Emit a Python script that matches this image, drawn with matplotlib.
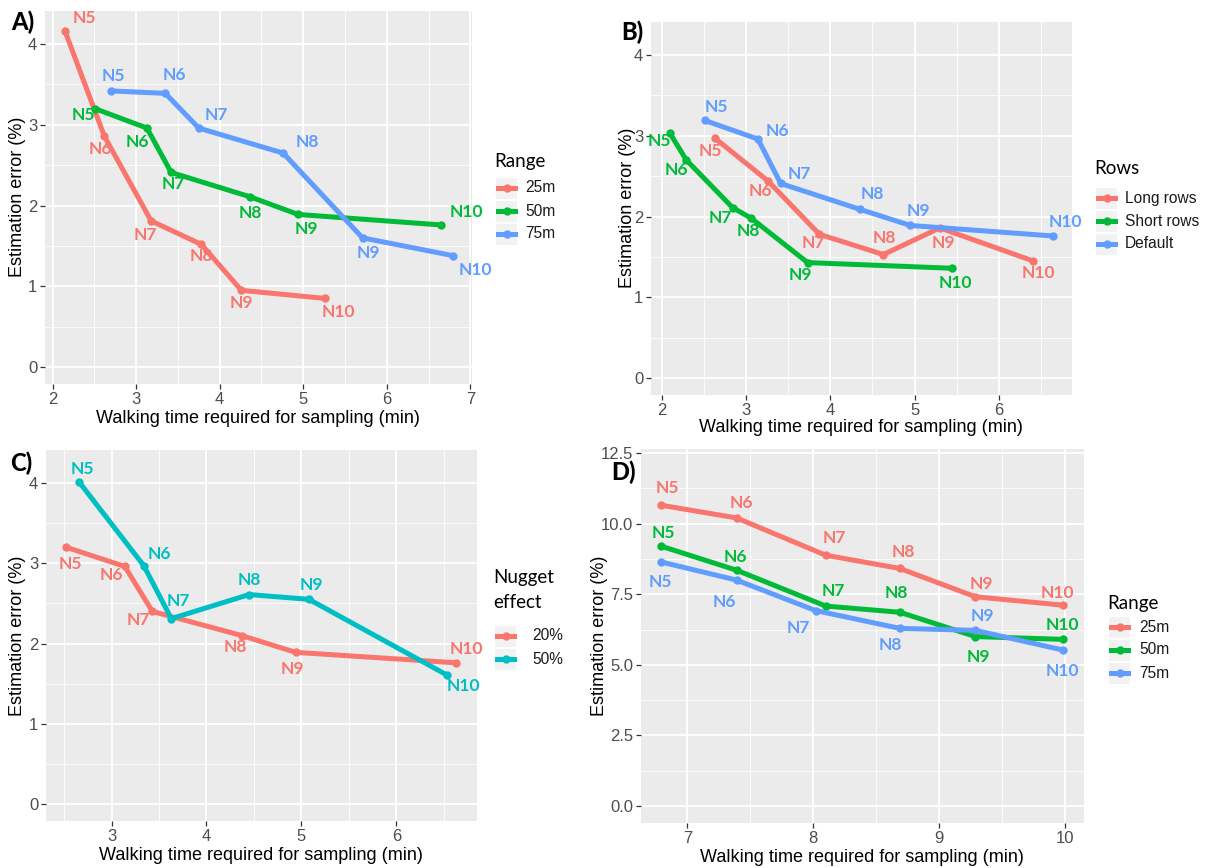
import matplotlib.pyplot as plt
from matplotlib.ticker import MultipleLocator, FormatStrFormatter
from matplotlib.patches import Rectangle
from matplotlib.lines import Line2D

W, H = 1205, 868

RED = '#F8766D'
GREEN = '#00BA38'
BLUE = '#619CFF'
TEAL = '#00BFC4'

point_names = ['N5', 'N6', 'N7', 'N8', 'N9', 'N10']

# A) sampling range
a_time_25 = [2.15, 2.62, 3.18, 3.78, 4.26, 5.26]
a_err_25 = [4.16, 2.86, 1.81, 1.52, 0.95, 0.85]
a_time_50 = [2.51, 3.13, 3.42, 4.36, 4.94, 6.65]
a_err_50 = [3.20, 2.96, 2.41, 2.11, 1.89, 1.76]
a_time_75 = [2.70, 3.35, 3.75, 4.76, 5.71, 6.79]
a_err_75 = [3.42, 3.39, 2.96, 2.65, 1.60, 1.38]

# B) row layout
b_time_long = [2.63, 3.26, 3.87, 4.63, 5.30, 6.41]
b_err_long = [2.97, 2.44, 1.78, 1.53, 1.86, 1.45]
b_time_short = [2.09, 2.29, 2.84, 3.06, 3.73, 5.44]
b_err_short = [3.04, 2.70, 2.11, 1.98, 1.43, 1.36]
b_time_default = [2.51, 3.14, 3.41, 4.35, 4.95, 6.64]
b_err_default = [3.19, 2.96, 2.41, 2.09, 1.89, 1.76]

# C) nugget effect
c_time_20 = [2.52, 3.14, 3.43, 4.37, 4.94, 6.63]
c_err_20 = [3.20, 2.96, 2.40, 2.10, 1.89, 1.76]
c_time_50 = [2.66, 3.34, 3.63, 4.45, 5.08, 6.53]
c_err_50 = [4.01, 2.97, 2.31, 2.61, 2.55, 1.61]

# D) sampling range, larger field
d_time_25 = [6.79, 7.39, 8.10, 8.69, 9.29, 9.99]
d_err_25 = [10.65, 10.20, 8.88, 8.41, 7.41, 7.11]
d_time_50 = [6.79, 7.39, 8.10, 8.69, 9.29, 9.99]
d_err_50 = [9.20, 8.35, 7.08, 6.86, 6.00, 5.90]
d_time_75 = [6.79, 7.39, 8.02, 8.69, 9.29, 9.99]
d_err_75 = [8.64, 8.00, 6.92, 6.29, 6.22, 5.52]

# label nudges in pixels (dx right, dy down)
nudge_a25 = [(19, -13), (-4, 13), (-6, 14), (0, 12), (0, 13), (13, 14)]
nudge_a50 = [(-12, 6), (-10, 14), (2, 12), (1, 16), (8, 15), (25, -13)]
nudge_a75 = [(2, -15), (9, -18), (18, -13), (24, -11), (6, 15), (23, 14)]
nudge_b_long = [(-5, 13), (-8, 10), (-6, 9), (1, -17), (4, 15), (5, 12)]
nudge_b_short = [(-10, 8), (-10, 10), (-12, 10), (-3, 13), (-7, 12), (4, 15)]
nudge_b_def = [(11, -13), (19, -8), (19, -9), (12, -15), (8, -14), (13, -14)]
nudge_c20 = [(4, 17), (-13, 9), (-14, 9), (-6, 11), (-3, 17), (10, -14)]
nudge_c50 = [(3, -13), (16, -12), (7, -18), (0, -15), (2, -14), (17, 11)]
nudge_d25 = [(6, -17), (5, -15), (9, -17), (3, -16), (6, -13), (-6, -12)]
nudge_d50 = [(2, -13), (-1, -13), (8, -15), (-4, -19), (3, 20), (-1, -14)]
nudge_d75 = [(-1, 20), (-12, 22), (-17, 17), (-10, 17), (7, -14), (-1, 21)]

SANS = ['Liberation Sans', 'DejaVu Sans']
LABEL_FONT = ['Lato', 'DejaVu Sans']

fig = plt.figure(figsize=(W / 100, H / 100), dpi=100)


def px_axes(left, top, right, bottom):
    return fig.add_axes([left / W, 1 - bottom / H, (right - left) / W, (bottom - top) / H])


def fig_text(x, y, s, **kw):
    fig.text(x / W, 1 - y / H, s, **kw)


def draw_panel(box, xlim, ylim, xstep, ystep, series, yfmt=None):
    ax = px_axes(*box)
    ax.set_facecolor('#EBEBEB')
    for sp in ax.spines.values():
        sp.set_visible(False)
    ax.set_xlim(*xlim)
    ax.set_ylim(*ylim)
    ax.xaxis.set_major_locator(MultipleLocator(xstep))
    ax.xaxis.set_minor_locator(MultipleLocator(xstep / 2))
    ax.yaxis.set_major_locator(MultipleLocator(ystep))
    ax.yaxis.set_minor_locator(MultipleLocator(ystep / 2))
    if yfmt:
        ax.yaxis.set_major_formatter(FormatStrFormatter(yfmt))
    ax.grid(which='major', color='white', lw=1.3)
    ax.grid(which='minor', color='white', lw=0.6)
    ax.set_axisbelow(True)
    ax.tick_params(which='major', length=3.5, width=0.9, color='#333333',
                   labelcolor='#4D4D4D', labelsize=12, pad=2)
    ax.tick_params(which='minor', length=0)
    for lab in ax.get_xticklabels() + ax.get_yticklabels():
        lab.set_family(SANS)
    for xs, ys, color, nudges in series:
        ax.plot(xs, ys, color=color, lw=3.6, marker='o', ms=5,
                solid_joinstyle='round', solid_capstyle='round', zorder=3)
        for name, x, y, (dx, dy) in zip(point_names, xs, ys, nudges):
            ax.annotate(name, (x, y), xytext=(dx, -dy), textcoords='offset pixels',
                        ha='center', va='center', color=color, fontsize=12.5,
                        fontweight='bold', family=LABEL_FONT, zorder=4)
    return ax


def draw_legend(x, title_lines, title_y, key_ys, names, colors, label_x):
    for i, line in enumerate(title_lines):
        fig_text(x - 2, title_y + i * 26, line, ha='left', va='center',
                 fontsize=13.5, family=LABEL_FONT, color='black')
    for ky, name, color in zip(key_ys, names, colors):
        fig.add_artist(Rectangle((x / W, 1 - (ky + 10.5) / H), 21 / W, 21 / H,
                                 transform=fig.transFigure, facecolor='#F2F2F2',
                                 edgecolor='none'))
        fig.add_artist(Line2D([(x + 2) / W, (x + 19) / W], [1 - ky / H, 1 - ky / H],
                              transform=fig.transFigure, color=color, lw=3.6))
        fig.add_artist(Line2D([(x + 10.5) / W], [1 - ky / H], transform=fig.transFigure,
                              color=color, marker='o', ms=5, lw=0))
        fig_text(label_x, ky, name, ha='left', va='center', fontsize=11.2,
                 family=SANS, color='#1A1A1A')


XLAB = 'Walking time required for sampling (min)'
YLAB = 'Estimation error (%)'

# A
draw_panel((45, 11, 472, 384), (1.91, 7.02), (-0.21, 4.41), 1, 1,
           [(a_time_25, a_err_25, RED, nudge_a25),
            (a_time_50, a_err_50, GREEN, nudge_a50),
            (a_time_75, a_err_75, BLUE, nudge_a75)])
fig_text(18, 197, YLAB, rotation=90, ha='center', va='center', fontsize=13, family=SANS)
fig_text(258, 418, XLAB, ha='center', va='center', fontsize=13, family=SANS)
fig_text(11, 22, 'A)', ha='left', va='center', fontsize=17, fontweight=900, family=LABEL_FONT)
draw_legend(496, ['Range'], 162, [188, 211, 234], ['25m', '50m', '75m'],
            [RED, GREEN, BLUE], 525)

# B
draw_panel((651, 22, 1072, 395), (1.87, 6.87), (-0.21, 4.41), 1, 1,
           [(b_time_long, b_err_long, RED, nudge_b_long),
            (b_time_short, b_err_short, GREEN, nudge_b_short),
            (b_time_default, b_err_default, BLUE, nudge_b_def)])
fig_text(627, 208, YLAB, rotation=90, ha='center', va='center', fontsize=13, family=SANS)
fig_text(861, 428, XLAB, ha='center', va='center', fontsize=13, family=SANS)
fig_text(621, 32, 'B)', ha='left', va='center', fontsize=17, fontweight=900, family=LABEL_FONT)
draw_legend(1096, ['Rows'], 168, [198, 221, 244], ['Long rows', 'Short rows', 'Default'],
            [RED, GREEN, BLUE], 1125)

# C
draw_panel((46, 450, 477, 821), (2.31, 6.85), (-0.21, 4.41), 1, 1,
           [(c_time_20, c_err_20, RED, nudge_c20),
            (c_time_50, c_err_50, TEAL, nudge_c50)])
fig_text(18, 636, YLAB, rotation=90, ha='center', va='center', fontsize=13, family=SANS)
fig_text(261, 856, XLAB, ha='center', va='center', fontsize=13, family=SANS)
fig_text(10, 463, 'C)', ha='left', va='center', fontsize=17, fontweight=900, family=LABEL_FONT)
draw_legend(495, ['Nugget', 'effect'], 577, [636, 659], ['20%', '50%'], [RED, TEAL], 532)

# D
draw_panel((641, 449, 1084, 823), (6.63, 10.155), (-0.6, 12.64), 1, 2.5,
           [(d_time_25, d_err_25, RED, nudge_d25),
            (d_time_50, d_err_50, GREEN, nudge_d50),
            (d_time_75, d_err_75, BLUE, nudge_d75)], yfmt='%.1f')
fig_text(600, 636, YLAB, rotation=90, ha='center', va='center', fontsize=13, family=SANS)
fig_text(862, 857, XLAB, ha='center', va='center', fontsize=13, family=SANS)
fig_text(611, 472, 'D)', ha='left', va='center', fontsize=17, fontweight=900, family=LABEL_FONT)
draw_legend(1109, ['Range'], 604, [627, 650, 673], ['25m', '50m', '75m'],
            [RED, GREEN, BLUE], 1139)

fig.savefig('out.png', dpi=100, facecolor='white')
